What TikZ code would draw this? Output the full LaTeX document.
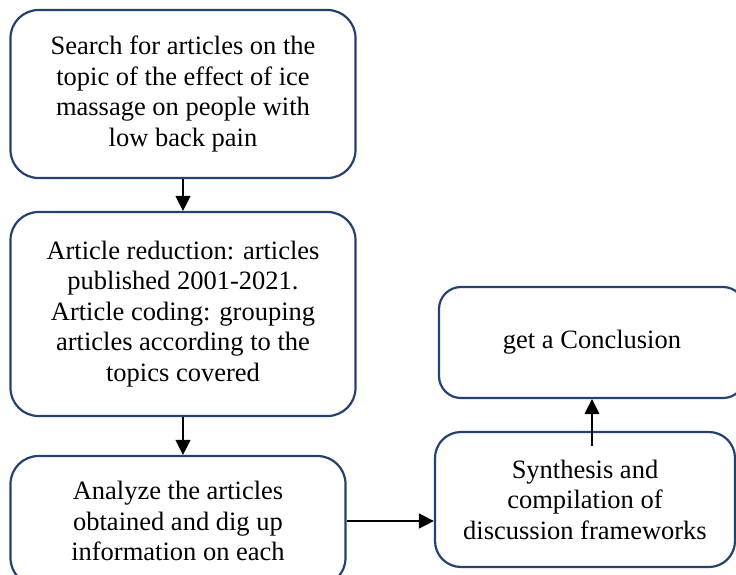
\documentclass[tikz,border=0pt]{standalone}
\usepackage{fontspec}
\setmainfont{Liberation Serif}
\usetikzlibrary{arrows.meta}
\definecolor{boxblue}{RGB}{38,64,112}
\begin{document}
\begin{tikzpicture}[x=1pt,y=-1pt,->,>={Triangle[width=15pt,length=15pt]},line width=1.2pt,
    font=\fontsize{26.5}{30.5}\selectfont,
    stepbox/.style={draw=boxblue,line width=2.2pt,rounded corners=28pt,align=center,inner sep=0pt}]
    \useasboundingbox (0,0) rectangle (736,574);
    \node [stepbox,minimum width=345pt,minimum height=168pt] (search) at (183,94) {Search for articles on the\\topic of the effect of ice\\massage on people with\\low back pain};
    \node [stepbox,minimum width=345pt,minimum height=204pt] (reduce) at (183,314) {Article reduction: articles\\published 2001-2021.\\Article coding: grouping\\articles according to the\\topics covered};
    \node [stepbox,minimum width=335pt,minimum height=130pt] (analyze) at (178,521) {Analyze the articles\\obtained and dig up\\information on each};
    \node [stepbox,minimum width=300pt,minimum height=135pt,rounded corners=26pt] (synth) at (585,499.5) {Synthesis and\\compilation of\\discussion frameworks};
    \node [stepbox,minimum width=306pt,minimum height=111pt,rounded corners=22pt] (concl) at (592,342.5) {get a Conclusion};
    \coordinate (synthtop) at ([yshift=-15pt]synth.north);
    \draw (search) -- (reduce);
    \draw (reduce.south) -- (reduce.south |- analyze.north);
    \draw (analyze) -- (analyze -| synth.west);
    \draw (synthtop -| concl.south) -- (concl.south);
\end{tikzpicture}
\end{document}
